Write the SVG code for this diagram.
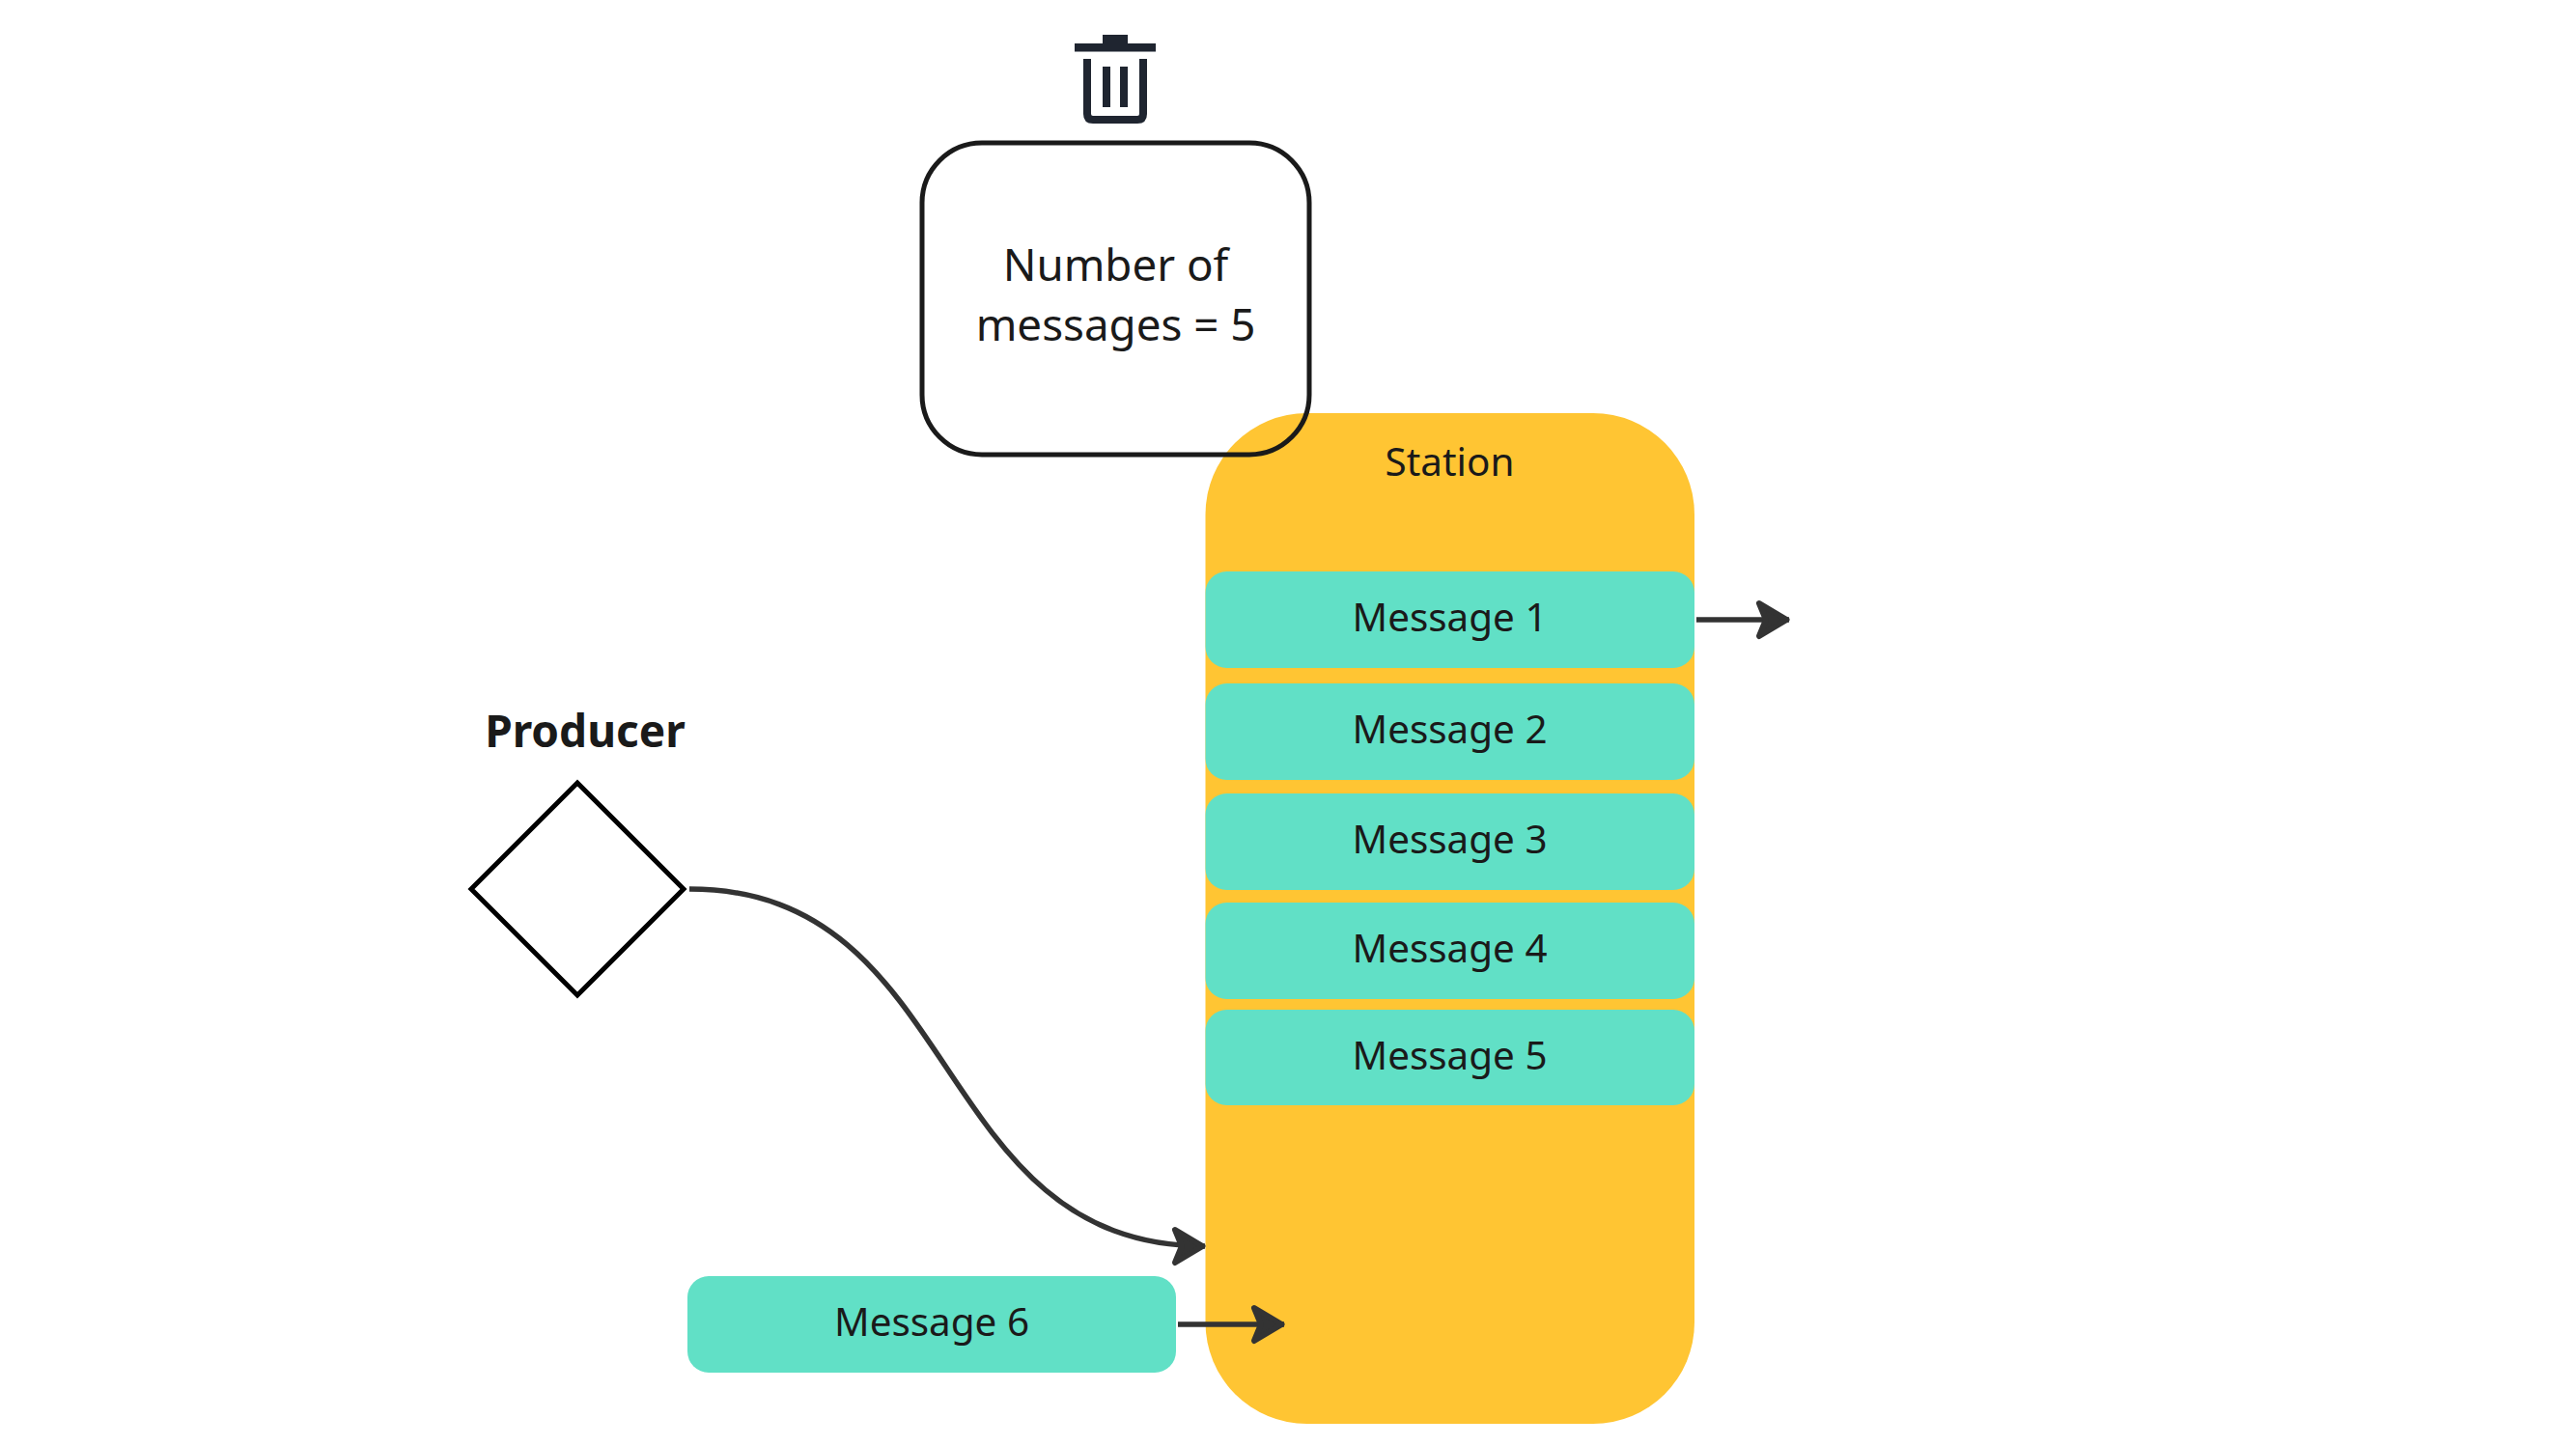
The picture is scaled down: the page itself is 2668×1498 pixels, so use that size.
<svg xmlns="http://www.w3.org/2000/svg" width="2668" height="1498" viewBox="0 0 2668 1498">
<style>
text{font-family:"Noto Sans","DejaVu Sans",sans-serif;fill:#1a1a1a;text-anchor:middle}
.m{font-size:40.400px}
.msg{fill:#61e0c6}
.c{fill:none;stroke:#333;stroke-width:5.500;marker-end:url(#ah)}
.t{fill:#1f2530}
</style>
<defs>
<marker id="ah" markerUnits="userSpaceOnUse" markerWidth="44" markerHeight="50" refX="35" refY="22" orient="auto" viewBox="0 0 44 50" overflow="visible">
<path d="M4 5 L32.500 22 L4 39 L11 22 Z" fill="#333" stroke="#333" stroke-width="6" stroke-linejoin="round"/>
</marker>
</defs>
<rect width="2668" height="1498" fill="#fff"/>
<g id="station"><rect x="1248.500" y="428" width="506.500" height="1047" rx="105" ry="105" fill="#ffc533"/><text class="m" x="1501.500" y="493">Station</text></g>
<g id="msg1"><rect class="msg" x="1248.500" y="592" width="506.500" height="100" rx="22"/><text class="m" x="1501.500" y="654">Message 1</text></g>
<g id="msg2"><rect class="msg" x="1248.500" y="708" width="506.500" height="100" rx="22"/><text class="m" x="1501.500" y="770">Message 2</text></g>
<g id="msg3"><rect class="msg" x="1248.500" y="822" width="506.500" height="100" rx="22"/><text class="m" x="1501.500" y="884">Message 3</text></g>
<g id="msg4"><rect class="msg" x="1248.500" y="935" width="506.500" height="100" rx="22"/><text class="m" x="1501.500" y="997">Message 4</text></g>
<g id="msg5"><rect class="msg" x="1248.500" y="1046" width="506.500" height="99" rx="22"/><text class="m" x="1501.500" y="1108">Message 5</text></g>
<g id="msg6"><rect class="msg" x="712" y="1322" width="506" height="100" rx="22"/><text class="m" x="965" y="1384">Message 6</text></g>
<g id="count"><rect x="955" y="148" width="401" height="323" rx="62" fill="none" stroke="#1a1a1a" stroke-width="5"/><text x="1155.500" y="291" font-size="45.700">Number of</text><text x="1155.500" y="353" font-size="45.700">messages = 5</text></g>
<g id="trash"><rect class="t" x="1142" y="36" width="26" height="10"/><rect class="t" x="1113" y="45" width="84" height="8.500"/><path d="M1126 61V118Q1126 124 1132 124H1178Q1184 124 1184 118V61" fill="none" stroke="#1f2530" stroke-width="8"/><rect class="t" x="1142" y="69" width="8" height="42"/><rect class="t" x="1160" y="69" width="8" height="42"/></g>
<g id="producer"><path d="M598 811L708 921L598 1031L488 921Z" fill="#fff" stroke="#000" stroke-width="5"/><text x="606" y="774" font-size="46" font-weight="700">Producer</text></g>
<g id="connectors">
<path class="c" d="M714 921C1000 921 960 1291 1248 1291"/>
<path class="c" d="M1757 642H1853"/>
<path class="c" d="M1220 1372H1330"/>
</g>
</svg>
